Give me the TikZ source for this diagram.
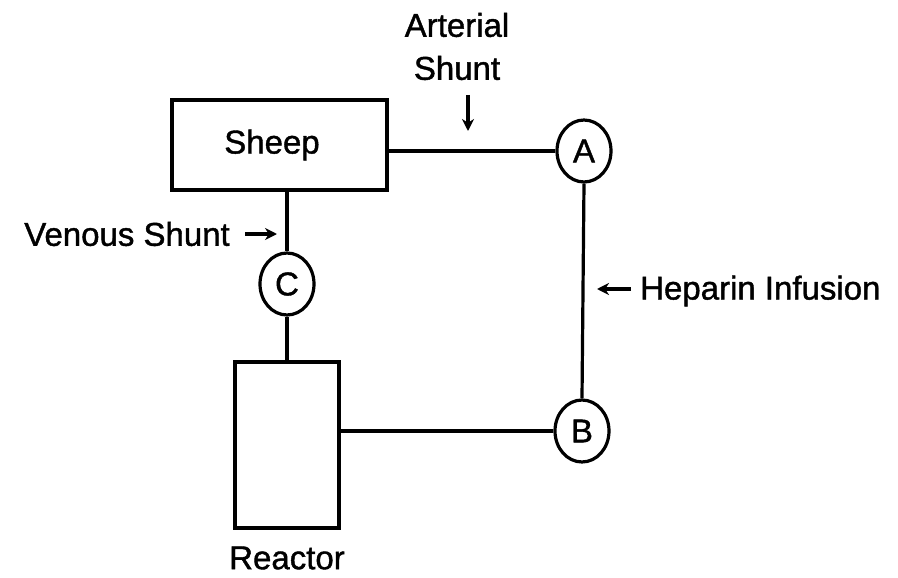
\documentclass[tikz,border=0pt]{standalone}
\usepackage{fontspec}
\setmainfont{Liberation Sans}
\newfontfamily\lblfont[FakeBold=1.2]{Liberation Sans}
\usetikzlibrary{arrows.meta,shapes.geometric}
\begin{document}
\begin{tikzpicture}[x=1pt,y=-1pt,
  every node/.style={font=\lblfont\fontsize{33}{38}\selectfont},
  line/.style={line width=3.2pt},
  boxn/.style={draw,line width=3.2pt,inner sep=0pt},
  valve/.style={draw,ellipse,line width=3.2pt,minimum width=54pt,minimum height=62pt,inner sep=0pt},
  lbl/.style={inner sep=0pt},
  ptr/.style={line width=3.2pt,-{Stealth[length=12pt,width=12pt]}}]
\useasboundingbox (0,0) rectangle (898,578);
\node[boxn,minimum width=215pt,minimum height=90pt] (sheep) at (279.5,145) {};
\node[lbl] at (272,145) {Sheep};
\node[boxn,minimum width=104pt,minimum height=166pt] (reactor) at (287,445) {};
\node[lbl] (rl) at (287,558) {Reactor};
\node[valve] (A) at (584,151) {A};
\node[valve] (B) at (582,431) {B};
\node[valve] (C) at (287,284) {C};
\coordinate (s1) at (387,151);
\coordinate (s2) at (287,190);
\coordinate (r1) at (287,362);
\coordinate (r2) at (339,431);
\draw[line] (s1) -- (A.west);
\draw[line] (A.south) -- (B.north);
\draw[line] (r2) -- (B.west);
\draw[line] (s2) -- (C.north);
\draw[line] (C.south) -- (r1);
\node[lbl] (art) at (457,25) {Arterial};
\node[lbl] (shu) at (457,68) {Shunt};
\coordinate (a1) at (468,95);
\coordinate (a2) at (468,131);
\draw[ptr] (a1) -- (a2);
\node[lbl,anchor=east] (ven) at (230,234) {Venous Shunt};
\coordinate (v1) at (245,234);
\coordinate (v2) at (277,234);
\draw[ptr] (v1) -- (v2);
\node[lbl,anchor=west] (hep) at (640,291) {Heparin Infusion};
\coordinate (h1) at (631,289);
\coordinate (h2) at (597,289);
\draw[ptr] (h1) -- (h2);
\end{tikzpicture}
\end{document}
